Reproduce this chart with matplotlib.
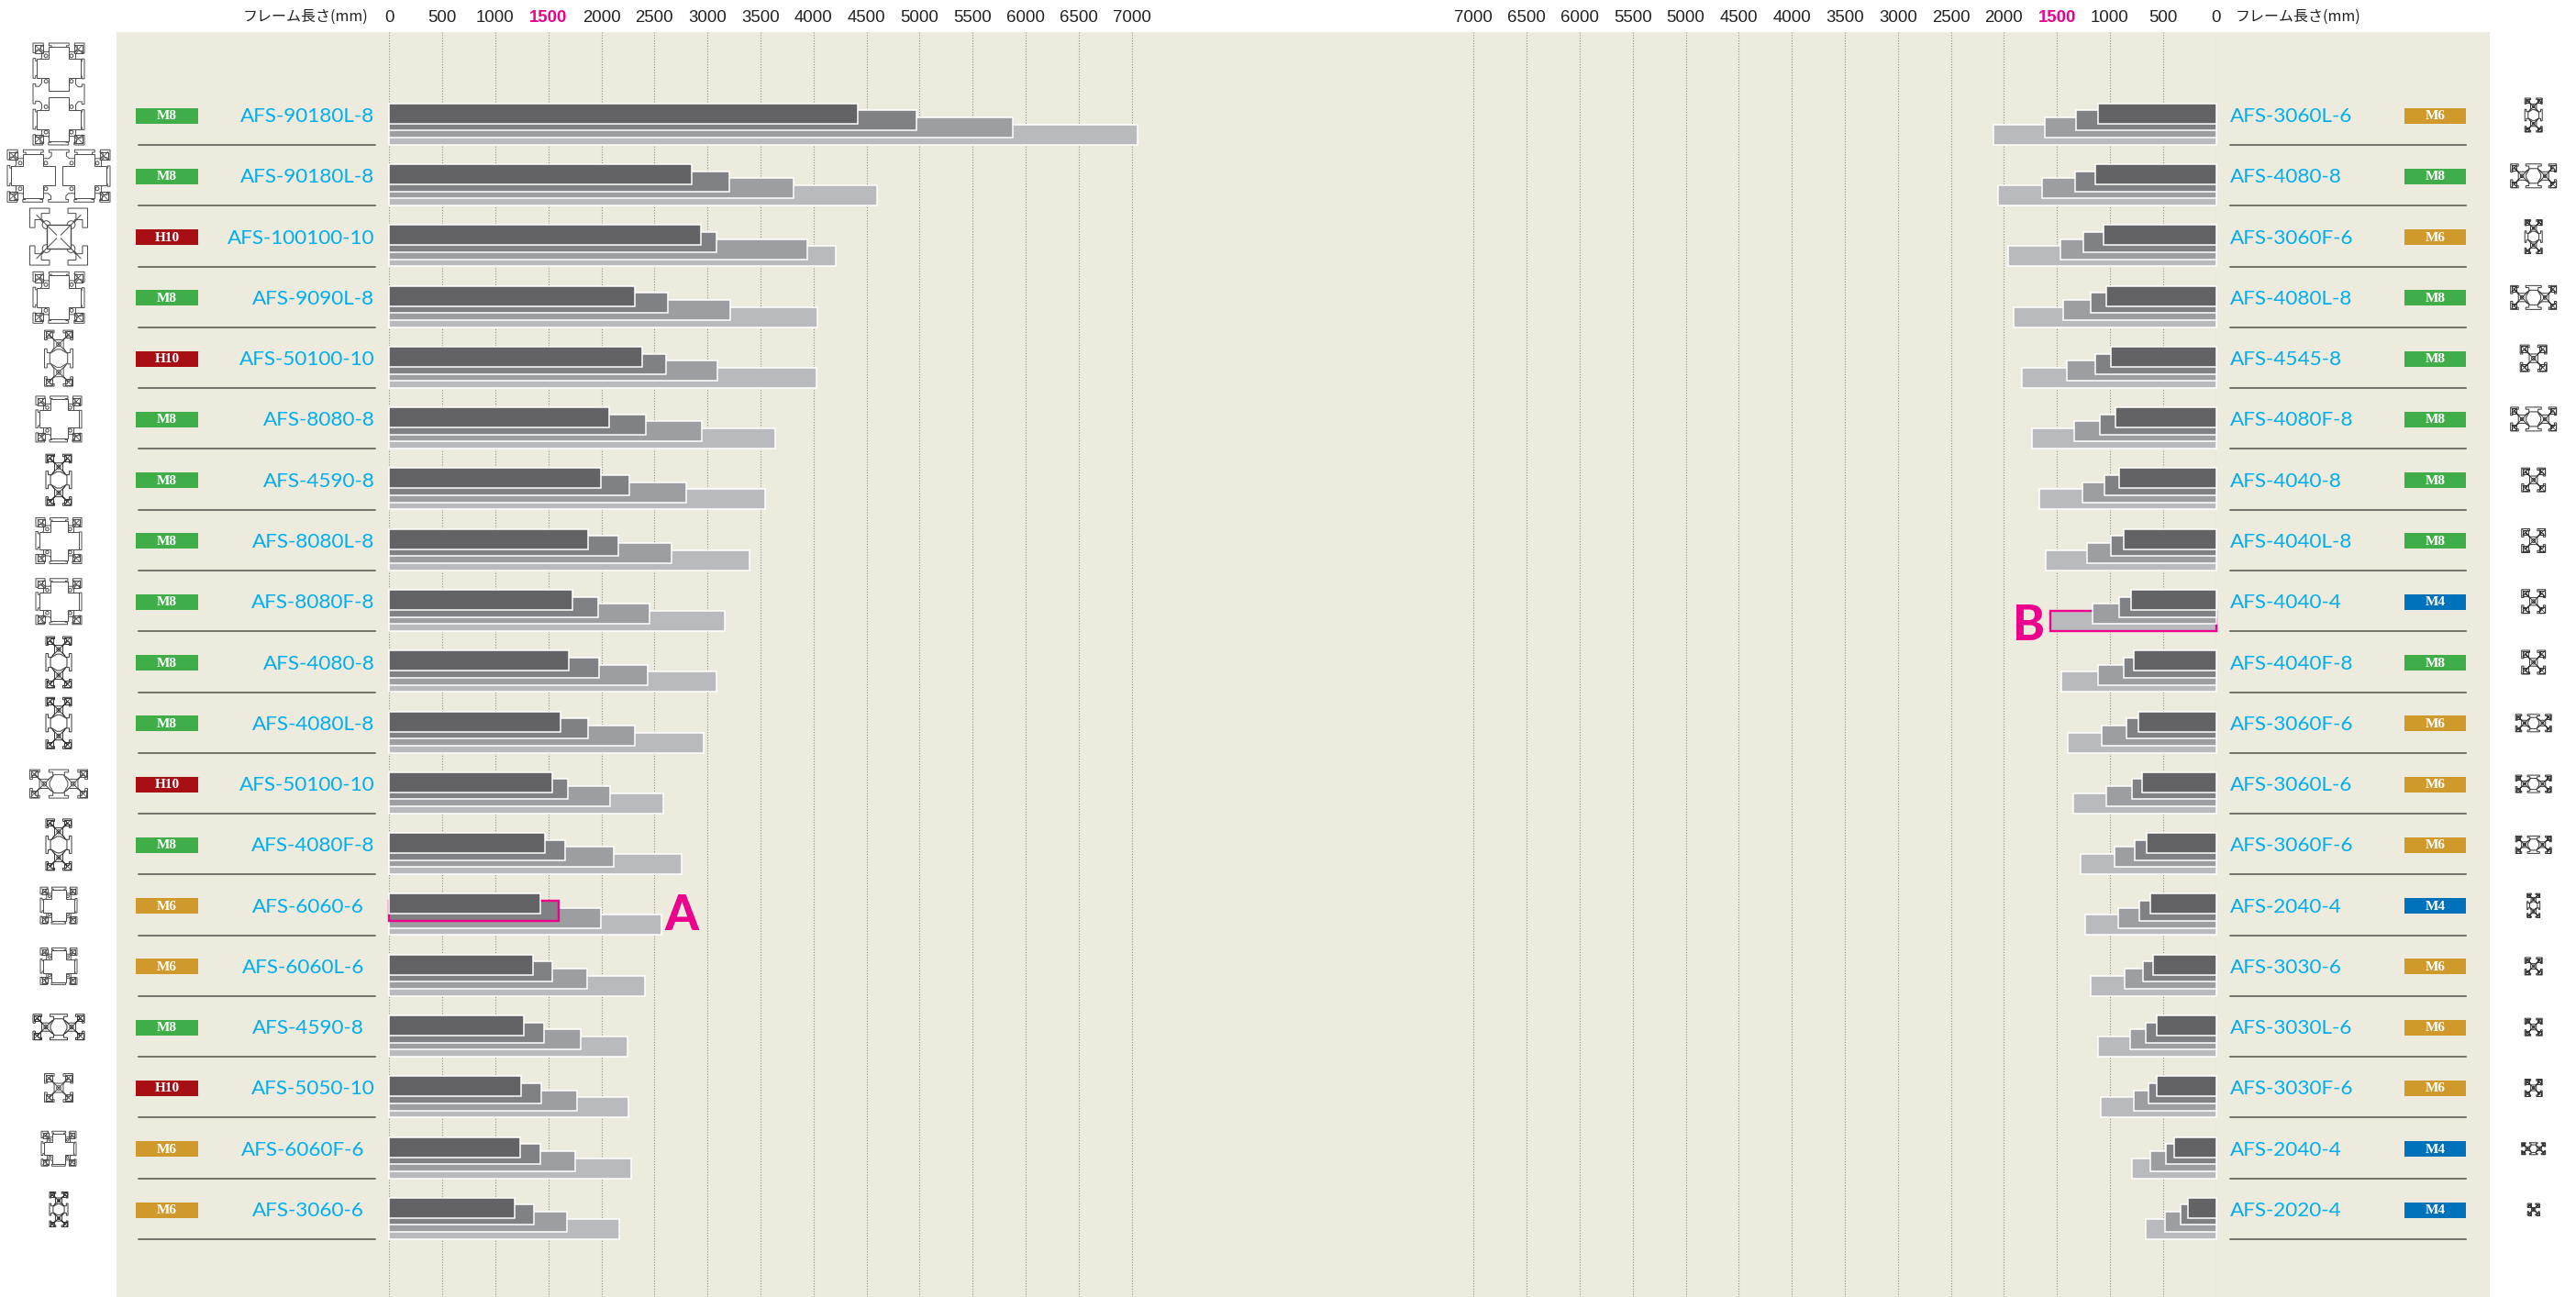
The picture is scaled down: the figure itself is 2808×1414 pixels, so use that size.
import numpy as np
import matplotlib
matplotlib.use("Agg")
import matplotlib.pyplot as plt
from matplotlib.patches import Polygon, Circle, Rectangle

W, H = 2808, 1414
plt.rcParams['font.family'] = ['Liberation Sans', 'DejaVu Sans']

# left chart
left_names = ["AFS-90180L-8", "AFS-90180L-8", "AFS-100100-10", "AFS-9090L-8", "AFS-50100-10",
              "AFS-8080-8", "AFS-4590-8", "AFS-8080L-8", "AFS-8080F-8", "AFS-4080-8",
              "AFS-4080L-8", "AFS-50100-10", "AFS-4080F-8", "AFS-6060-6", "AFS-6060L-6",
              "AFS-4590-8", "AFS-5050-10", "AFS-6060F-6", "AFS-3060-6"]
left_tags = ["M8", "M8", "H10", "M8", "H10", "M8", "M8", "M8", "M8", "M8",
             "M8", "H10", "M8", "M6", "M6", "M8", "H10", "M6", "M6"]
left_a = [4414, 2848, 2940, 2312, 2386, 2070, 1992, 1873, 1731, 1690,
          1618, 1540, 1471, 1424, 1355, 1269, 1246, 1237, 1185]
left_b = [4973, 3210, 3082, 2628, 2610, 2422, 2267, 2157, 1974, 1976,
          1874, 1687, 1661, 1597, 1540, 1462, 1433, 1422, 1364]
left_c = [5884, 3810, 3943, 3214, 3095, 2944, 2802, 2665, 2450, 2438,
          2315, 2079, 2119, 1992, 1863, 1802, 1773, 1756, 1675]
left_d = [7052, 4602, 4208, 4034, 4030, 3636, 3540, 3393, 3164, 3085,
          2961, 2587, 2754, 2566, 2411, 2246, 2255, 2284, 2166]

# right chart
right_names = ["AFS-3060L-6", "AFS-4080-8", "AFS-3060F-6", "AFS-4080L-8", "AFS-4545-8",
               "AFS-4080F-8", "AFS-4040-8", "AFS-4040L-8", "AFS-4040-4", "AFS-4040F-8",
               "AFS-3060F-6", "AFS-3060L-6", "AFS-3060F-6", "AFS-2040-4", "AFS-3030-6",
               "AFS-3030L-6", "AFS-3030F-6", "AFS-2040-4", "AFS-2020-4"]
right_tags = ["M6", "M8", "M6", "M8", "M8", "M8", "M8", "M8", "M4", "M8",
              "M6", "M6", "M6", "M4", "M6", "M6", "M6", "M4", "M4"]
right_a = [1116, 1136, 1058, 1038, 995, 952, 911, 871, 802, 776,
           735, 698, 655, 617, 597, 559, 559, 392, 265]
right_b = [1324, 1332, 1254, 1185, 1136, 1096, 1050, 989, 911, 874,
           842, 796, 764, 724, 686, 666, 637, 470, 332]
right_c = [1615, 1644, 1468, 1442, 1404, 1335, 1263, 1214, 1168, 1110,
           1081, 1038, 960, 923, 862, 813, 776, 617, 482]
right_d = [2096, 2056, 1958, 1909, 1831, 1733, 1664, 1606, 1563, 1462,
           1401, 1344, 1275, 1234, 1185, 1116, 1087, 793, 663]

ticks = list(range(0, 7500, 500))

# profile drawings: width, height (px), modules across, modules down, kind
left_icons = [(56, 111, 1, 2, "cross"), (112, 57, 2, 1, "cross"), (63, 62, 1, 1, "ring"),
              (56, 56, 1, 1, "cross"), (31, 61, 1, 2, "lens"), (50, 50, 1, 1, "cross"),
              (28, 56, 1, 2, "lens"), (50, 50, 1, 1, "cross"), (50, 50, 1, 1, "cross"),
              (28, 56, 1, 2, "lens"), (28, 56, 1, 2, "lens"), (63, 31, 2, 1, "lens"),
              (28, 56, 1, 2, "lens"), (40, 40, 1, 1, "cross"), (40, 40, 1, 1, "cross"),
              (56, 28, 2, 1, "lens"), (31, 31, 1, 1, "hub"), (38, 38, 1, 1, "cross"),
              (20, 38, 1, 2, "lens")]
right_icons = [(19, 37, 1, 2, "lens"), (50, 26, 2, 1, "lens"), (19, 37, 1, 2, "lens"),
               (50, 26, 2, 1, "lens"), (29, 29, 1, 1, "hub"), (50, 26, 2, 1, "lens"),
               (26, 26, 1, 1, "hub"), (26, 26, 1, 1, "hub"), (26, 26, 1, 1, "hub"),
               (26, 26, 1, 1, "hub"), (39, 19, 2, 1, "lens"), (39, 19, 2, 1, "lens"),
               (39, 19, 2, 1, "lens"), (14, 26, 1, 2, "lens"), (19, 19, 1, 1, "hub"),
               (19, 19, 1, 1, "hub"), (19, 19, 1, 1, "hub"), (26, 13, 2, 1, "lens"),
               (13, 13, 1, 1, "hub")]

bar_colors = ["#636365", "#808184", "#9d9ea1", "#b9babd"]
tag_colors = {"M8": "#3fae49", "H10": "#a80f15", "M6": "#cf9a2b", "M4": "#0072bc"}
panel = "#edebde"
pink = "#ec008c"
blue = "#00aeef"
short_rows = [13, 14, 15, 17, 18]

row_h = 66.28
row0 = 135.25      # pixel centre of a bar group in the first row
px_per_mm = 0.1156
slot = [(0, 0), (.34, 0), (.34, .09), (.2, .09), (.2, .22), (.36, .34), (.64, .34),
        (.8, .22), (.8, .09), (.66, .09), (.66, 0)]
# big hollow sections carry two narrow slots per side
slot_big = [(0, 0), (.4, 0), (.4, .1), (.3, .1), (.3, .24), (.42, .34), (.62, .34),
            (.72, .24), (.72, .1), (.62, .1), (.62, 0)]


def px_axes(x0, x1, y0, y1, **kw):
    return fig.add_axes([x0/W, 1-y1/H, (x1-x0)/W, (y1-y0)/H], **kw)


def draw_profile(cx, cy, spec, lw=0.7):
    w, h, nx, ny, kind = spec
    x0, x1, y0, y1 = cx-w/2, cx+w/2, cy-h/2, cy+h/2
    mx, my = w/nx, h/ny
    s = min(mx, my)
    col = "#333333" if s < 30 else "#4a4a4a"
    big = kind == "cross"
    n_x, n_y = (nx*2, ny*2) if big else (nx, ny)
    ux, uy = w/n_x, h/n_y
    us = min(ux, uy)
    sl = slot_big if big else slot
    pts = []
    for k in range(n_x):
        pts += [(x0+ux*(k+a), y0+d*us) for a, d in sl]
    for k in range(n_y):
        pts += [(x1-d*us, y0+uy*(k+a)) for a, d in sl]
    for k in range(n_x):
        pts += [(x1-ux*(k+a), y1-d*us) for a, d in sl]
    for k in range(n_y):
        pts += [(x0+d*us, y1-uy*(k+a)) for a, d in sl]
    bg.add_patch(Polygon(pts, closed=True, fc="white", ec=col, lw=lw))

    corners = [(x0, y0, 1, 1), (x1, y0, -1, 1), (x0, y1, 1, -1), (x1, y1, -1, -1)]
    if kind != "ring":
        a, b = .04*s, (.2 if big else .27)*s
        for px, py, sx, sy in corners:
            bg.plot([px+sx*a, px+sx*b, px+sx*b, px+sx*a, px+sx*a],
                    [py+sy*a, py+sy*a, py+sy*b, py+sy*b, py+sy*a], color=col, lw=lw)
            bg.plot([px+sx*a, px+sx*b], [py+sy*a, py+sy*b], color=col, lw=lw*.8)
            bg.plot([px+sx*b, px+sx*a], [py+sy*a, py+sy*b], color=col, lw=lw*.8)

    if big:
        for i in range(nx):
            for j in range(ny):
                mcx, mcy = x0+mx*(i+.5), y0+my*(j+.5)
                u, v = .43*s, .19*s
                q = [(-v, -u), (v, -u), (v, -v), (u, -v), (u, v), (v, v),
                     (v, u), (-v, u), (-v, v), (-u, v), (-u, -v), (-v, -v)]
                bg.add_patch(Polygon([(mcx+a, mcy+b) for a, b in q], closed=True,
                                     fc="white", ec=col, lw=lw))
                for sx in (-1, 1):
                    for sy in (-1, 1):
                        bg.add_patch(Circle((mcx+sx*.25*s, mcy+sy*.25*s), .035*s,
                                            fc="white", ec=col, lw=lw))
    elif kind == "ring":
        for px, py, sx, sy in corners:
            bg.plot([px+sx*.12*s, px+sx*.47*s], [py+sy*.12*s, py+sy*.47*s], color=col, lw=lw)
            bg.add_patch(Circle((px+sx*.29*s, py+sy*.29*s), .07*s, fc="white", ec=col, lw=lw))
        bg.add_patch(Rectangle((cx-.21*s, cy-.21*s), .42*s, .42*s, fc="white", ec=col, lw=lw*1.4))
    else:
        for i in range(nx):
            for j in range(ny):
                mcx, mcy = x0+mx*(i+.5), y0+my*(j+.5)
                for px, py, sx, sy in corners:
                    bg.plot([mcx, mcx+np.sign(px-cx)*.24*s], [mcy, mcy+np.sign(py-cy)*.24*s],
                            color=col, lw=lw)
                bg.add_patch(Circle((mcx, mcy), .075*s, fc="white", ec=col, lw=lw))
        if nx+ny > 2:
            u, v = .32*s, .17*s
            if nx > 1:
                q = [(-v, -u), (v, -u), (u, -v*.4), (u, v*.4), (v, u), (-v, u), (-u, v*.4), (-u, -v*.4)]
            else:
                q = [(-u, -v), (-v*.4, -u), (v*.4, -u), (u, -v), (u, v), (v*.4, u), (-v*.4, u), (-u, v)]
            bg.add_patch(Polygon([(cx+a, cy+b) for a, b in q], closed=True, fc="white", ec=col, lw=lw))


def draw_bars(ax, series, mark_bar, mark_row):
    for j in [3, 2, 1, 0]:
        ec = ["white"]*19
        lws = [1.1]*19
        if j == mark_bar:
            ec[mark_row] = pink
            lws[mark_row] = 1.7
        ax.barh(rows+0.1157*(j-1.5), series[j], height=0.332, color=bar_colors[j],
                edgecolor=ec, linewidth=lws, zorder=3+(3-j), clip_on=False)
    ax.set_ylim((H-row0)/row_h, (35-row0)/row_h)
    ax.set_yticks([])
    ax.set_xticks(ticks)
    ax.xaxis.tick_top()
    ax.tick_params(axis='x', length=0, labelsize=13.4, pad=5, labelcolor="#222222")
    labs = ax.get_xticklabels()
    labs[3].set_color(pink)
    labs[3].set_fontweight("bold")
    ax.grid(axis='x', color="#8f8f85", lw=0.8, linestyle=(0, (1, 1.6)), zorder=1)
    ax.set_axisbelow(True)
    ax.patch.set_alpha(0)
    for sp in ax.spines.values():
        sp.set_visible(False)


rows = np.arange(19)
fig = plt.figure(figsize=(W/100, H/100), dpi=100, facecolor="white")
bg = px_axes(0, W, 0, H, zorder=0)
bg.set_xlim(0, W)
bg.set_ylim(H, 0)
bg.axis("off")
bg.add_patch(Rectangle((127, 35), 2714-127, H-35, fc=panel, ec="none"))

axl = px_axes(424.3, 424.3+7100*px_per_mm, 35, H, zorder=2)
axl.set_xlim(0, 7100)
draw_bars(axl, [left_a, left_b, left_c, left_d], 1, 13)

axr = px_axes(2415.6-7100*px_per_mm, 2415.6, 35, H, zorder=2)
axr.set_xlim(7100, 0)
draw_bars(axr, [right_a, right_b, right_c, right_d], 3, 8)

name_font = dict(family=['Lato', 'DejaVu Sans'], color=blue, fontsize=16.2, va='center')
tag_font = dict(family=['Liberation Serif', 'DejaVu Serif'], color="white", fontsize=11,
                weight='bold', ha='center', va='center')
for i in rows:
    y = 125.5+row_h*i
    sep = 158+row_h*i
    bg.plot([151, 408.5], [sep, sep], color="#55544e", lw=1.1)
    bg.plot([2431, 2688], [sep, sep], color="#55544e", lw=1.1)
    bg.add_patch(Rectangle((148, y-8), 68, 17, fc=tag_colors[left_tags[i]], ec="none"))
    bg.add_patch(Rectangle((2621, y-8), 67, 17, fc=tag_colors[right_tags[i]], ec="none"))
    bg.text(182, y+1, left_tags[i], **tag_font)
    bg.text(2654.5, y+1, right_tags[i], **tag_font)
    bg.text(397 if i in short_rows else 408.5, y+1.5, left_names[i], ha='right', **name_font)
    bg.text(2431, y+1.5, right_names[i], ha='left', **name_font)
    cy = 102.5 if i == 0 else y
    draw_profile(64, cy, left_icons[i])
    draw_profile(2761.7, y, right_icons[i])

cjk = ['Noto Sans CJK JP', 'DejaVu Sans']
bg.text(333, 18.5, "フレーム長さ(mm)", family=cjk, fontsize=11.5, color="#222222", ha='center', va='center')
bg.text(2505, 18.5, "フレーム長さ(mm)", family=cjk, fontsize=11.5, color="#222222", ha='center', va='center')

big_font = dict(family=['Lato', 'DejaVu Sans'], weight='black', fontsize=38, color=pink, ha='center', va='center')
bg.text(743, 998, "A", **big_font)
bg.text(2211, 683, "B", **big_font)

fig.savefig("out.png", dpi=100, facecolor="white")
